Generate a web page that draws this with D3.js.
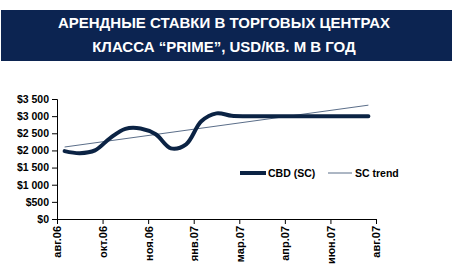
<!DOCTYPE html>
<html>
<head>
<meta charset="utf-8">
<script src="https://cdn.jsdelivr.net/npm/d3@7"></script>
<style>
body { margin: 0; background: #fff; }
text { font-family: "Liberation Sans", Arial, sans-serif; }
</style>
</head>
<body>
<div id="chart"></div>
<script>
// title lines
var titleLines = ["АРЕНДНЫЕ СТАВКИ В ТОРГОВЫХ ЦЕНТРАХ", "КЛАССА “PRIME”, USD/КВ. М В ГОД"];

// x axis labels, one every 3 categories
var xLabels = ["авг.06", "окт.06", "ноя.06", "янв.07", "мар.07", "апр.07", "июн.07", "авг.07"];
var labelStep = 3;

// CBD (SC) rent, USD per sq m per year, one value per category
var cbdValues = [1980, 1920, 2000, 2360, 2630, 2640, 2470, 2060, 2180, 2850, 3080, 3010,
	3000, 3000, 3000, 3000, 3000, 3000, 3000, 3000, 3000];

// SC trend, first and last category
var trendValues = [2100, 3320];

var yTicks = [0, 500, 1000, 1500, 2000, 2500, 3000, 3500];

var legendNames = ["CBD (SC)", "SC trend"];

var width = 475,
	height = 272;

var svg = d3.select("#chart").append("svg")
	.attr("width", width)
	.attr("height", height);

// banner
svg.append("rect")
	.attr("x", 1)
	.attr("y", 10)
	.attr("width", 451)
	.attr("height", 51)
	.attr("fill", "#0c2451");

svg.selectAll("text.title")
	.data(titleLines)
	.enter().append("text")
	.attr("class", "title")
	.attr("x", 224)
	.attr("y", function (d, i) { return 28 + i * 24; })
	.attr("text-anchor", "middle")
	.attr("fill", "#fff")
	.attr("font-size", "15px")
	.attr("font-weight", "bold")
	.text(function (d) { return d; });

// plot area
var plotLeft = 57,
	plotRight = 376,
	plotTop = 99,
	plotBottom = 219;

var nCat = cbdValues.length;

var x = d3.scaleLinear()
	.domain([0, nCat])
	.range([plotLeft, plotRight]);

var y = d3.scaleLinear()
	.domain([0, 3500])
	.range([plotBottom, plotTop]);

var locale = d3.formatLocale({ decimal: ",", thousands: " ", grouping: [3], currency: ["$", ""] });
var fmt = locale.format("$,.0f");

// y axis
var yAxis = svg.append("g")
	.attr("transform", "translate(" + plotLeft + ",0)")
	.call(d3.axisLeft(y).tickValues(yTicks).tickSize(5).tickPadding(3).tickFormat(fmt));
yAxis.select(".domain").attr("stroke", "#000");
yAxis.selectAll("text")
	.attr("font-size", "10.5px")
	.attr("font-weight", "bold")
	.attr("fill", "#000");

// x axis, ticks between categories
var xTickVals = xLabels.map(function (d, i) { return i * labelStep; });
var xAxis = svg.append("g")
	.attr("transform", "translate(0," + plotBottom + ")")
	.call(d3.axisBottom(x).tickValues(xTickVals).tickSize(5).tickSizeOuter(0)
		.tickFormat(function (d, i) { return xLabels[i]; }));
xAxis.select(".domain").attr("stroke", "#000");
xAxis.selectAll("text")
	.attr("transform", "rotate(-90)")
	.attr("x", -7)
	.attr("y", 0)
	.attr("dy", "0.35em")
	.style("text-anchor", "end")
	.attr("font-size", "11px")
	.attr("font-weight", "bold")
	.attr("fill", "#000");

// trend
var trendX = [0.5, nCat - 0.5];
svg.append("path")
	.datum(trendValues)
	.attr("fill", "none")
	.attr("stroke", "#5b6e89")
	.attr("stroke-width", 1)
	.attr("d", d3.line()
		.x(function (d, i) { return x(trendX[i]); })
		.y(function (d) { return y(d); }));

// CBD smooth line
svg.append("path")
	.datum(cbdValues)
	.attr("fill", "none")
	.attr("stroke", "#0b2344")
	.attr("stroke-width", 4)
	.attr("stroke-linecap", "round")
	.attr("d", d3.line()
		.curve(d3.curveCatmullRom)
		.x(function (d, i) { return x(i + 0.5); })
		.y(function (d) { return y(d); }));

// legend
var legend = svg.append("g").attr("transform", "translate(240,173)");
legend.append("line")
	.attr("x1", 0).attr("x2", 26)
	.attr("stroke", "#0b2344")
	.attr("stroke-width", 4);
legend.append("line")
	.attr("x1", 88).attr("x2", 112)
	.attr("stroke", "#5b6e89")
	.attr("stroke-width", 1);
legend.selectAll("text")
	.data(legendNames)
	.enter().append("text")
	.attr("x", function (d, i) { return i == 0 ? 28 : 115; })
	.attr("dy", "0.35em")
	.attr("font-size", "10.5px")
	.attr("font-weight", "bold")
	.attr("fill", "#000")
	.text(function (d) { return d; });
</script>
</body>
</html>
